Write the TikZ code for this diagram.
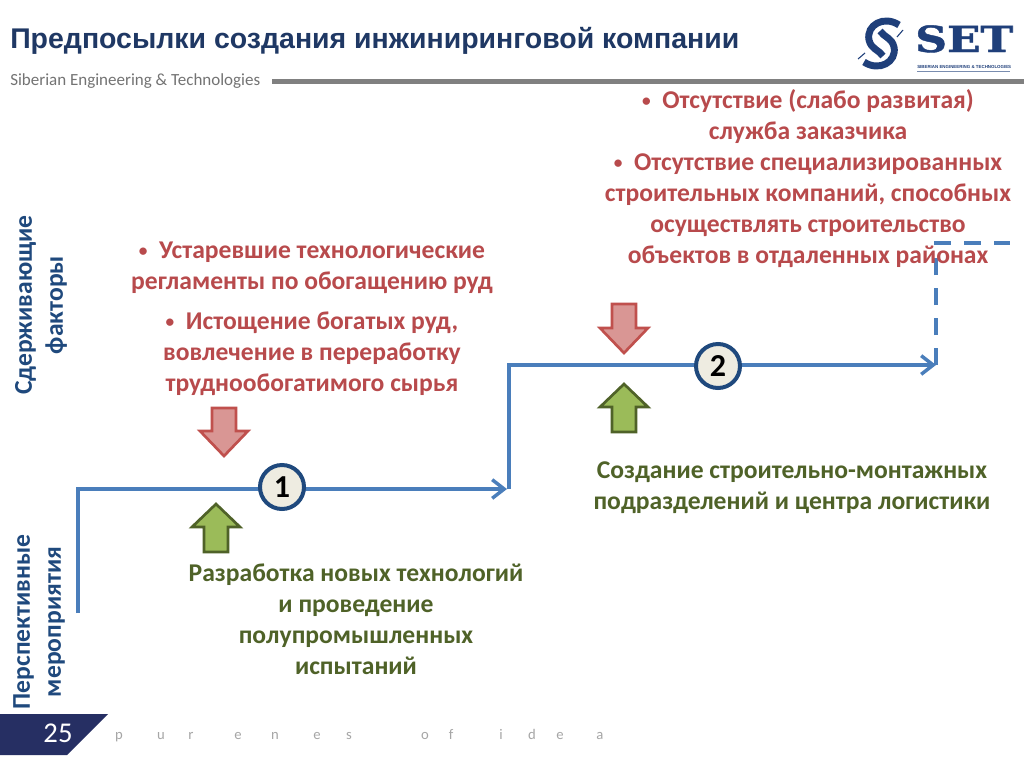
\documentclass[tikz,border=0pt]{standalone}
\usepackage{fontspec}
\setmainfont{Carlito}
\newfontfamily\arialf{Liberation Sans}
\newfontfamily\logof[FakeBold=1.2]{DejaVu Serif}
\usetikzlibrary{arrows.meta}
\definecolor{redtx}{HTML}{B84A4C}
\definecolor{greentx}{HTML}{4F6228}
\definecolor{linec}{HTML}{4A7EBB}
\definecolor{navy}{HTML}{1F497D}
\definecolor{titlec}{HTML}{1F3864}
\definecolor{logoc}{HTML}{1F3F7A}
\definecolor{badge}{HTML}{262F63}
\definecolor{stepfill}{HTML}{EEECE1}
\definecolor{arrowred}{HTML}{C0504D}
\definecolor{arrowredfill}{HTML}{D99694}
\definecolor{arrowgreen}{HTML}{4F6228}
\definecolor{arrowgreenfill}{HTML}{9BBB59}
\newcommand{\bul}{\raisebox{1.5pt}{\fontsize{13}{13}\selectfont•}\ \ }
\tikzset{
 redtext/.style={align=center,text=redtx,font=\fontsize{19.2}{23.2}\selectfont\bfseries,inner sep=0pt},
 greentext/.style={align=center,text=greentx,font=\fontsize{19.2}{23.2}\selectfont\bfseries,inner sep=0pt},
 sidetext/.style={align=center,rotate=90,text=navy,font=\fontsize{19.2}{23.2}\selectfont\bfseries,inner sep=0pt},
 flow/.style={draw=linec,line width=3pt},
 flowarrow/.style={flow,-{Straight Barb[length=9pt,width=14pt,line width=2.6pt]}},
 stepcircle/.style={circle,draw=navy,line width=3pt,fill=stepfill,minimum size=33pt,inner sep=0pt,font=\fontsize{24}{24}\selectfont\bfseries},
 downarrow/.style={draw=arrowred,fill=arrowredfill,line width=2pt,line join=miter},
 uparrow/.style={draw=arrowgreen,fill=arrowgreenfill,line width=2pt,line join=miter},
}
\begin{document}
\begin{tikzpicture}[x=0.75pt,y=-0.75pt]
\useasboundingbox (0,0) rectangle (1024,768);
\fill[white] (0,0) rectangle (1024,768);
% header
\node[anchor=base west,inner sep=0pt,text=titlec,font=\arialf\fontsize{21.35}{22}\selectfont\bfseries] (title) at (10,48) {Предпосылки создания инжиниринговой компании};
\node[anchor=base west,inner sep=0pt,text=black!55,font=\fontsize{12.75}{14}\selectfont] (sub) at (10,85) {Siberian Engineering \& Technologies};
\fill[black!50] (272,79) rectangle (1024,84);
% logo
\draw[logoc,line width=5.2pt,line cap=butt] (899,25) .. controls (884,15) and (866,25) .. (869,40) .. controls (871,49) and (879,50) .. (883,56);
\draw[logoc,line width=5.2pt,line cap=butt] (864,62) .. controls (879,72) and (897,62) .. (894,47) .. controls (892,38) and (884,37) .. (880,31);
\draw[logoc,line width=0.8pt] (858,59) -- (865,53);
\draw[logoc,line width=0.8pt] (897,37) -- (903,30);
\node[anchor=base west,inner sep=0pt,text=logoc,xscale=1.22,font=\logof\fontsize{27}{27}\selectfont\bfseries] (logo) at (915,52) {SET};
\node[anchor=base west,inner sep=0pt,text=logoc,font=\arialf\fontsize{3.3}{5}\selectfont\bfseries] (logosub) at (917,68) {SIBERIAN ENGINEERING \& TECHNOLOGIES};
\draw[logoc!60,line width=0.4pt] (917,71) -- (1010,71);
% side labels
\node[sidetext] (s1) at (41,305) {Сдерживающие\\факторы};
\node[sidetext] (s2) at (39,622) {Перспективные\\мероприятия};
% flow
\coordinate (p0) at (78,613);
\coordinate (p1) at (78,489);
\coordinate (p2) at (507,489);
\coordinate (p3) at (509,489);
\coordinate (p4) at (509,365);
\coordinate (p5) at (936,365);
\coordinate (p6) at (936,365);
\coordinate (p7) at (936,243);
\coordinate (p8) at (1010,243);
\draw[flowarrow] (p0) -- (p1) -- (p2);
\draw[flowarrow] (p3) -- (p4) -- (p5);
\draw[flow,dash pattern=on 12.8pt off 9.7pt] (p6) -- (p7) -- (p8);
% steps
\node[stepcircle] (c1) at (282,487) {1};
\node[stepcircle] (c2) at (718,366) {2};
% block arrows
\path[downarrow] (212,408) -- (236,408) -- (236,431) -- (248,431) -- (224,456) -- (200,431) -- (212,431) -- cycle;
\path[uparrow] (204,552) -- (228,552) -- (228,527) -- (240,527) -- (216,504) -- (192,527) -- (204,527) -- cycle;
\path[downarrow] (612,304) -- (636,304) -- (636,328) -- (648,328) -- (624,353) -- (600,328) -- (612,328) -- cycle;
\path[uparrow] (612,432) -- (636,432) -- (636,407) -- (648,407) -- (624,384) -- (600,407) -- (612,407) -- cycle;
% texts
\node[redtext] (t1) at (312,268) {\bul Устаревшие технологические\\регламенты по обогащению руд};
\node[redtext] (t2) at (312,353.5) {\bul Истощение богатых руд,\\вовлечение в переработку\\трудно­обогатимого сырья};
\node[redtext] (t3) at (808,178.5) {\bul Отсутствие (слабо развитая)\\служба заказчика\\\bul Отсутствие специализированных\\строительных компаний, способных\\осуществлять строительство\\объектов в отдаленных районах};
\node[greentext] (t4) at (356,619) {Разработка новых технологий\\и проведение\\полупромышленных\\испытаний};
\node[greentext] (t5) at (792,487.5) {Создание строительно-монтажных\\подразделений и центра логистики};
% footer
\fill[badge] (0,714) -- (108,714) -- (67,755) -- (0,755) -- cycle;
\node[anchor=base,inner sep=0pt,text=white,font=\fontsize{21.5}{22}\selectfont] (num) at (58,742) {25};
\foreach \ch/\xx [count=\i] in {p/119,u/161,r/191,e/238,n/275,e/317,s/349,o/425,f/451,i/501,d/532,e/560,a/600}
  \node[anchor=base,inner sep=0pt,text=black!35,font=\fontsize{11}{12}\selectfont] (foot\i) at (\xx,739) {\ch};
\end{tikzpicture}
\end{document}
